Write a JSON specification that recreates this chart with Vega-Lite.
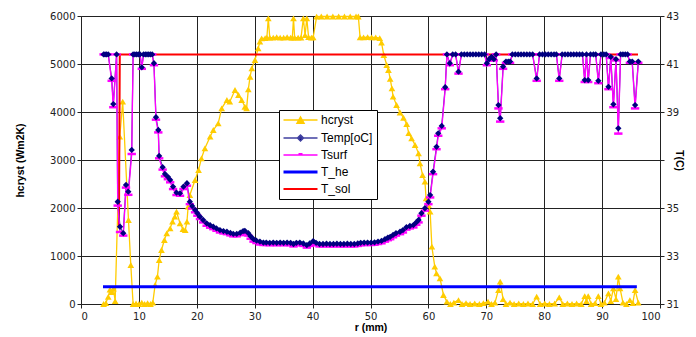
{
  "$schema": "https://vega.github.io/schema/vega-lite/v6.json",
  "width": 579,
  "height": 288,
  "autosize": {"type": "none"},
  "padding": {"left": 81, "top": 16, "right": 36, "bottom": 33},
  "background": "white",
  "datasets": {
    "hc": [
      {"r":3.9,"v":0},{"r":4.3,"v":20},{"r":4.7,"v":150},{"r":5.0,"v":300},{"r":5.3,"v":250},{"r":5.6,"v":320},{"r":5.9,"v":60},
      {"r":6.7,"v":3486},{"r":7.2,"v":4215},{"r":8.2,"v":1750},{"r":8.6,"v":812},{"r":9.0,"v":0},{"r":9.5,"v":10},{"r":10.0,"v":0},
      {"r":10.5,"v":30},{"r":11.0,"v":0},{"r":11.5,"v":20},{"r":12.0,"v":0},{"r":12.4,"v":30},
      {"r":12.8,"v":396},{"r":13.2,"v":570},{"r":13.5,"v":917},{"r":13.9,"v":1125},{"r":14.4,"v":1333},{"r":14.8,"v":1473},
      {"r":15.4,"v":1577},{"r":15.8,"v":1715},{"r":16.2,"v":1820},{"r":16.5,"v":1923},{"r":17.1,"v":1681},{"r":17.6,"v":1560},
      {"r":18.0,"v":1540},{"r":18.3,"v":1715},{"r":18.5,"v":2027},{"r":18.8,"v":2271},{"r":19.7,"v":2583},{"r":20.3,"v":2792},
      {"r":20.8,"v":3035},{"r":21.4,"v":3243},{"r":22.3,"v":3486},{"r":22.85,"v":3625},{"r":23.7,"v":3764},{"r":24.3,"v":4077},
      {"r":25.2,"v":4250},{"r":25.7,"v":4215},{"r":26.6,"v":4458},{"r":27.2,"v":4354},{"r":27.75,"v":4250},{"r":28.3,"v":4110},
      {"r":28.6,"v":4077},{"r":28.9,"v":4472},{"r":29.2,"v":4735},{"r":29.5,"v":4910},{"r":30.05,"v":5083},{"r":30.6,"v":5327},
      {"r":30.9,"v":5465},{"r":31.2,"v":5535},{"r":31.8,"v":5540},{"r":32.1,"v":5550},{"r":32.35,"v":5952},{"r":32.6,"v":5550},
      {"r":33.2,"v":5550},{"r":33.8,"v":5560},{"r":34.4,"v":5550},{"r":35.0,"v":5550},{"r":35.6,"v":5560},{"r":36.2,"v":5550},
      {"r":36.5,"v":5550},{"r":36.7,"v":5952},{"r":36.9,"v":5550},{"r":37.5,"v":5550},{"r":38.0,"v":5550},{"r":38.4,"v":5952},
      {"r":38.7,"v":5600},{"r":39.0,"v":5952},{"r":39.3,"v":5560},{"r":39.8,"v":5550},{"r":40.1,"v":5555},{"r":40.7,"v":5986},
      {"r":41.5,"v":5990},{"r":42.5,"v":5990},{"r":43.5,"v":5990},{"r":44.5,"v":5990},{"r":45.5,"v":5990},{"r":46.5,"v":5990},
      {"r":47.5,"v":5990},{"r":47.9,"v":5990},{"r":48.2,"v":5555},{"r":48.8,"v":5555},{"r":49.5,"v":5560},{"r":50.2,"v":5555},
      {"r":50.9,"v":5555},{"r":51.6,"v":5540},{"r":51.9,"v":5444},{"r":52.3,"v":5187},{"r":52.8,"v":4979},{"r":53.1,"v":4875},
      {"r":53.4,"v":4690},{"r":53.7,"v":4493},{"r":53.9,"v":4319},{"r":54.5,"v":4146},{"r":55.1,"v":3990},{"r":55.7,"v":3880},
      {"r":56.25,"v":3750},{"r":56.6,"v":3560},{"r":57.1,"v":3450},{"r":57.7,"v":3312},{"r":58.3,"v":3139},{"r":58.55,"v":2931},
      {"r":59.0,"v":2687},{"r":59.4,"v":2548},{"r":59.6,"v":2201},{"r":60.0,"v":2062},{"r":60.3,"v":1923},{"r":60.6,"v":1194},
      {"r":61.1,"v":777},{"r":61.4,"v":639},{"r":62.0,"v":535},{"r":62.6,"v":188},{"r":63.2,"v":48},{"r":63.8,"v":0},
      {"r":64.4,"v":30},{"r":65.2,"v":80},{"r":65.8,"v":0},{"r":66.5,"v":20},{"r":67.2,"v":0},{"r":68.0,"v":10},{"r":68.8,"v":0},
      {"r":69.5,"v":20},{"r":70.3,"v":50},{"r":70.9,"v":0},{"r":71.5,"v":30},{"r":72.1,"v":290},{"r":72.4,"v":465},{"r":72.9,"v":100},
      {"r":73.4,"v":0},{"r":74.1,"v":30},{"r":74.8,"v":0},{"r":75.6,"v":10},{"r":76.4,"v":0},{"r":77.2,"v":10},{"r":78.0,"v":0},
      {"r":78.7,"v":152},{"r":79.3,"v":0},{"r":80.1,"v":10},{"r":80.9,"v":0},{"r":81.8,"v":10},{"r":82.6,"v":140},{"r":83.2,"v":0},
      {"r":84.0,"v":10},{"r":84.8,"v":0},{"r":85.6,"v":10},{"r":86.4,"v":0},{"r":87.0,"v":166},{"r":87.3,"v":60},{"r":87.6,"v":166},
      {"r":88.1,"v":0},{"r":88.8,"v":20},{"r":89.35,"v":166},{"r":89.8,"v":0},{"r":90.4,"v":30},{"r":91.1,"v":222},{"r":91.5,"v":60},
      {"r":91.95,"v":327},{"r":92.4,"v":100},{"r":92.8,"v":570},{"r":93.1,"v":327},{"r":93.6,"v":30},{"r":94.2,"v":0},{"r":94.8,"v":80},
      {"r":95.3,"v":20},{"r":95.7,"v":290},{"r":96.25,"v":30}
    ],
    "temp": [
      {"r":3.9,"t":41.4},{"r":4.15,"t":41.4},{"r":4.4,"t":41.4},{"r":4.7,"t":41.4},{"r":5.3,"t":40.4},{"r":5.58,"t":39.33},
      {"r":6.15,"t":41.4},{"r":6.34,"t":35.26},{"r":6.74,"t":34.22},{"r":7.3,"t":33.95},{"r":7.77,"t":35.96},{"r":8.17,"t":35.68},
      {"r":8.76,"t":37.42},{"r":9.0,"t":41.4},{"r":9.3,"t":41.4},{"r":9.6,"t":41.4},{"r":9.9,"t":41.4},{"r":10.2,"t":41.4},
      {"r":10.5,"t":40.86},{"r":10.8,"t":41.4},{"r":11.1,"t":41.4},{"r":11.4,"t":41.4},{"r":11.7,"t":41.4},{"r":12.0,"t":41.4},
      {"r":12.3,"t":41.4},{"r":12.6,"t":41.03},{"r":12.95,"t":38.78},{"r":13.35,"t":38.25},{"r":13.5,"t":37.17},{"r":14.1,"t":36.7},
      {"r":14.5,"t":36.42},{"r":15.0,"t":36.3},{"r":15.4,"t":36.17},{"r":15.9,"t":35.89},{"r":16.5,"t":35.64},{"r":17.1,"t":35.61},
      {"r":17.7,"t":35.89},{"r":18.3,"t":36.03},{"r":18.8,"t":35.26},{"r":19.2,"t":35.08},{"r":19.7,"t":34.92},{"r":20.1,"t":34.78},
      {"r":20.55,"t":34.64},{"r":21.1,"t":34.5},{"r":21.7,"t":34.36},{"r":22.3,"t":34.28},{"r":22.85,"t":34.22},{"r":23.4,"t":34.15},
      {"r":24.0,"t":34.08},{"r":24.6,"t":34.04},{"r":25.2,"t":34.01},{"r":25.8,"t":33.96},{"r":26.3,"t":33.92},{"r":26.9,"t":33.92},
      {"r":27.5,"t":33.97},{"r":28.0,"t":34.04},{"r":28.3,"t":34.05},{"r":28.9,"t":33.95},{"r":29.3,"t":33.82},{"r":29.8,"t":33.7},
      {"r":30.3,"t":33.64},{"r":30.9,"t":33.6},{"r":31.5,"t":33.56},{"r":32.0,"t":33.56},{"r":32.6,"t":33.55},{"r":33.2,"t":33.56},
      {"r":33.8,"t":33.55},{"r":34.4,"t":33.56},{"r":35.0,"t":33.55},{"r":35.6,"t":33.56},{"r":36.2,"t":33.55},{"r":36.7,"t":33.5},
      {"r":37.2,"t":33.55},{"r":37.8,"t":33.56},{"r":38.4,"t":33.52},{"r":39.0,"t":33.45},{"r":39.5,"t":33.52},{"r":40.1,"t":33.62},
      {"r":40.6,"t":33.55},{"r":41.2,"t":33.5},{"r":41.8,"t":33.5},{"r":42.4,"t":33.51},{"r":43.0,"t":33.5},{"r":43.6,"t":33.5},
      {"r":44.2,"t":33.51},{"r":44.8,"t":33.5},{"r":45.4,"t":33.5},{"r":46.0,"t":33.51},{"r":46.6,"t":33.5},{"r":47.2,"t":33.5},
      {"r":47.8,"t":33.52},{"r":48.3,"t":33.55},{"r":48.9,"t":33.56},{"r":49.5,"t":33.56},{"r":50.1,"t":33.56},{"r":50.7,"t":33.57},
      {"r":51.3,"t":33.6},{"r":51.9,"t":33.63},{"r":52.5,"t":33.7},{"r":53.0,"t":33.76},{"r":53.4,"t":33.8},{"r":53.9,"t":33.88},
      {"r":54.4,"t":33.95},{"r":55.1,"t":34.01},{"r":55.6,"t":34.08},{"r":56.2,"t":34.2},{"r":56.8,"t":34.25},{"r":57.4,"t":34.29},
      {"r":57.9,"t":34.4},{"r":58.3,"t":34.5},{"r":58.8,"t":34.78},{"r":59.4,"t":34.99},{"r":60.0,"t":35.26},{"r":60.3,"t":35.54},
      {"r":60.8,"t":36.51},{"r":61.4,"t":37.55},{"r":61.7,"t":38.11},{"r":62.3,"t":38.42},{"r":62.9,"t":40.03},{"r":63.2,"t":41.4},
      {"r":63.7,"t":41.03},{"r":64.2,"t":41.4},{"r":64.7,"t":41.4},{"r":65.2,"t":40.68},{"r":65.7,"t":41.4},{"r":66.2,"t":41.4},
      {"r":66.7,"t":41.4},{"r":67.2,"t":41.4},{"r":67.7,"t":41.4},{"r":68.2,"t":41.4},{"r":68.7,"t":41.4},{"r":69.2,"t":41.4},
      {"r":69.7,"t":41.4},{"r":70.1,"t":41.03},{"r":70.5,"t":41.2},{"r":70.9,"t":41.3},{"r":71.3,"t":41.2},{"r":71.7,"t":41.4},
      {"r":72.1,"t":39.29},{"r":72.4,"t":38.74},{"r":72.9,"t":40.89},{"r":73.4,"t":41.1},{"r":73.8,"t":41.1},{"r":74.1,"t":41.1},
      {"r":74.5,"t":41.4},{"r":75.0,"t":41.4},{"r":75.5,"t":41.4},{"r":76.0,"t":41.4},{"r":76.5,"t":41.4},{"r":77.0,"t":41.4},
      {"r":77.5,"t":41.4},{"r":78.0,"t":41.4},{"r":78.7,"t":40.4},{"r":79.2,"t":41.4},{"r":79.7,"t":41.4},{"r":80.2,"t":41.4},
      {"r":80.7,"t":41.4},{"r":81.2,"t":41.4},{"r":81.7,"t":41.4},{"r":82.1,"t":41.4},{"r":82.6,"t":40.4},{"r":83.1,"t":41.4},
      {"r":83.6,"t":41.4},{"r":84.1,"t":41.4},{"r":84.6,"t":41.4},{"r":85.1,"t":41.4},{"r":85.6,"t":41.4},{"r":86.1,"t":41.4},
      {"r":86.6,"t":41.4},{"r":87.0,"t":40.33},{"r":87.3,"t":41.4},{"r":87.6,"t":40.33},{"r":88.0,"t":41.4},{"r":88.5,"t":41.4},
      {"r":88.9,"t":41.4},{"r":89.35,"t":40.3},{"r":89.8,"t":41.4},{"r":90.3,"t":41.4},{"r":90.7,"t":41.4},{"r":91.1,"t":40.05},
      {"r":91.5,"t":41.3},{"r":91.95,"t":39.32},{"r":92.4,"t":41.2},{"r":92.8,"t":38.32},{"r":93.2,"t":41.4},{"r":93.6,"t":41.4},
      {"r":94.0,"t":41.4},{"r":94.4,"t":41.4},{"r":94.8,"t":41.1},{"r":95.2,"t":41.1},{"r":95.7,"t":39.29},{"r":96.25,"t":41.1}
    ],
    "tsurf": [
      {"r":3.9,"t":41.4},{"r":4.15,"t":41.4},{"r":4.4,"t":41.4},{"r":4.7,"t":41.4},{"r":5.3,"t":40.3},{"r":5.58,"t":39.2},
      {"r":6.15,"t":41.4},{"r":6.34,"t":35.1},{"r":6.74,"t":34.0},{"r":7.3,"t":33.85},{"r":7.77,"t":35.85},{"r":8.17,"t":35.55},
      {"r":8.76,"t":37.25},{"r":9.0,"t":41.4},{"r":9.3,"t":41.4},{"r":9.6,"t":41.4},{"r":9.9,"t":41.4},{"r":10.2,"t":41.4},
      {"r":10.5,"t":40.8},{"r":10.8,"t":41.4},{"r":11.1,"t":41.4},{"r":11.4,"t":41.4},{"r":11.7,"t":41.4},{"r":12.0,"t":41.4},
      {"r":12.3,"t":41.4},{"r":12.6,"t":40.95},{"r":12.95,"t":38.68},{"r":13.35,"t":38.15},{"r":13.5,"t":37.07},{"r":14.1,"t":36.6},
      {"r":14.5,"t":36.32},{"r":15.0,"t":36.2},{"r":15.4,"t":36.07},{"r":15.9,"t":35.79},{"r":16.5,"t":35.54},{"r":17.1,"t":35.51},
      {"r":17.7,"t":35.79},{"r":18.3,"t":35.93},{"r":18.8,"t":35.16},{"r":19.2,"t":34.98},{"r":19.7,"t":34.82},{"r":20.1,"t":34.68},
      {"r":20.55,"t":34.54},{"r":21.1,"t":34.4},{"r":21.7,"t":34.26},{"r":22.3,"t":34.18},{"r":22.85,"t":34.12},{"r":23.4,"t":34.05},
      {"r":24.0,"t":33.98},{"r":24.6,"t":33.94},{"r":25.2,"t":33.91},{"r":25.8,"t":33.86},{"r":26.3,"t":33.82},{"r":26.9,"t":33.82},
      {"r":27.5,"t":33.87},{"r":28.0,"t":33.94},{"r":28.3,"t":33.95},{"r":28.9,"t":33.85},{"r":29.3,"t":33.72},{"r":29.8,"t":33.6},
      {"r":30.3,"t":33.54},{"r":30.9,"t":33.48},{"r":31.5,"t":33.46},{"r":32.0,"t":33.46},{"r":32.6,"t":33.45},{"r":33.2,"t":33.46},
      {"r":33.8,"t":33.45},{"r":34.4,"t":33.46},{"r":35.0,"t":33.45},{"r":35.6,"t":33.46},{"r":36.2,"t":33.45},{"r":36.7,"t":33.4},
      {"r":37.2,"t":33.45},{"r":37.8,"t":33.46},{"r":38.4,"t":33.42},{"r":39.0,"t":33.35},{"r":39.5,"t":33.42},{"r":40.1,"t":33.5},
      {"r":40.6,"t":33.45},{"r":41.2,"t":33.4},{"r":41.8,"t":33.4},{"r":42.4,"t":33.41},{"r":43.0,"t":33.4},{"r":43.6,"t":33.4},
      {"r":44.2,"t":33.41},{"r":44.8,"t":33.4},{"r":45.4,"t":33.4},{"r":46.0,"t":33.41},{"r":46.6,"t":33.4},{"r":47.2,"t":33.4},
      {"r":47.8,"t":33.42},{"r":48.3,"t":33.45},{"r":48.9,"t":33.46},{"r":49.5,"t":33.46},{"r":50.1,"t":33.46},{"r":50.7,"t":33.47},
      {"r":51.3,"t":33.5},{"r":51.9,"t":33.53},{"r":52.5,"t":33.6},{"r":53.0,"t":33.66},{"r":53.4,"t":33.7},{"r":53.9,"t":33.78},
      {"r":54.4,"t":33.85},{"r":55.1,"t":33.91},{"r":55.6,"t":33.98},{"r":56.2,"t":34.1},{"r":56.8,"t":34.15},{"r":57.4,"t":34.19},
      {"r":57.9,"t":34.3},{"r":58.3,"t":34.4},{"r":58.8,"t":34.68},{"r":59.4,"t":34.89},{"r":60.0,"t":35.16},{"r":60.3,"t":35.44},
      {"r":60.8,"t":36.41},{"r":61.4,"t":37.45},{"r":61.7,"t":38.01},{"r":62.3,"t":38.32},{"r":62.9,"t":39.95},{"r":63.2,"t":41.4},
      {"r":63.7,"t":40.95},{"r":64.2,"t":41.4},{"r":64.7,"t":41.4},{"r":65.2,"t":40.6},{"r":65.7,"t":41.4},{"r":66.2,"t":41.4},
      {"r":66.7,"t":41.4},{"r":67.2,"t":41.4},{"r":67.7,"t":41.4},{"r":68.2,"t":41.4},{"r":68.7,"t":41.4},{"r":69.2,"t":41.4},
      {"r":69.7,"t":41.4},{"r":70.1,"t":40.95},{"r":70.5,"t":41.15},{"r":70.9,"t":41.25},{"r":71.3,"t":41.15},{"r":71.7,"t":41.4},
      {"r":72.1,"t":39.15},{"r":72.4,"t":38.6},{"r":72.9,"t":40.8},{"r":73.4,"t":41.05},{"r":73.8,"t":41.05},{"r":74.1,"t":41.05},
      {"r":74.5,"t":41.4},{"r":75.0,"t":41.4},{"r":75.5,"t":41.4},{"r":76.0,"t":41.4},{"r":76.5,"t":41.4},{"r":77.0,"t":41.4},
      {"r":77.5,"t":41.4},{"r":78.0,"t":41.4},{"r":78.7,"t":40.3},{"r":79.2,"t":41.4},{"r":79.7,"t":41.4},{"r":80.2,"t":41.4},
      {"r":80.7,"t":41.4},{"r":81.2,"t":41.4},{"r":81.7,"t":41.4},{"r":82.1,"t":41.4},{"r":82.6,"t":40.3},{"r":83.1,"t":41.4},
      {"r":83.6,"t":41.4},{"r":84.1,"t":41.4},{"r":84.6,"t":41.4},{"r":85.1,"t":41.4},{"r":85.6,"t":41.4},{"r":86.1,"t":41.4},
      {"r":86.6,"t":41.4},{"r":87.0,"t":40.25},{"r":87.3,"t":41.4},{"r":87.6,"t":40.25},{"r":88.0,"t":41.4},{"r":88.5,"t":41.4},
      {"r":88.9,"t":41.4},{"r":89.35,"t":40.2},{"r":89.8,"t":41.4},{"r":90.3,"t":41.4},{"r":90.7,"t":41.4},{"r":91.1,"t":39.95},
      {"r":91.5,"t":41.25},{"r":91.95,"t":39.2},{"r":92.4,"t":41.15},{"r":92.8,"t":38.1},{"r":93.2,"t":41.4},{"r":93.6,"t":41.4},
      {"r":94.0,"t":41.4},{"r":94.4,"t":41.4},{"r":94.8,"t":41.05},{"r":95.2,"t":41.05},{"r":95.7,"t":39.15},{"r":96.25,"t":41.05}
    ],
    "the": [{"r":3.8,"t":31.72},{"r":96.0,"t":31.72}],
    "tsol": [{"r":6.55,"t":34.2},{"r":6.7,"t":41.4},{"r":96.2,"t":41.4}]
  },
  "encoding": {
    "x": {
      "field": "r", "type": "quantitative",
      "scale": {"domain": [0, 100], "nice": false},
      "axis": {"values": [0,10,20,30,40,50,60,70,80,90,100], "title": "r (mm)", "labelPadding": 3, "titlePadding": 1}
    }
  },
  "layer": [
    {
      "data": {"name": "hc"},
      "encoding": {
        "y": {
          "field": "v", "type": "quantitative",
          "scale": {"domain": [0, 6000], "nice": false},
          "axis": {"orient": "left", "values": [0,1000,2000,3000,4000,5000,6000], "format": "d",
                   "title": "hcryst (Wm2K)", "titleX": -56, "titleY": 144}
        }
      },
      "layer": [
        {
          "mark": {"type": "line", "strokeWidth": 1.3},
          "encoding": {
            "color": {
              "datum": "hcryst", "type": "nominal",
              "scale": {"domain": ["hcryst","Temp[oC]","Tsurf","T_he","T_sol"],
                        "range": ["#FFCC00","#4040A0","#FF00FF","#0000FF","#FF0000"]},
              "legend": {
                "orient": "none", "legendX": 198, "legendY": 94, "title": null,
                "padding": 4, "strokeColor": "#000", "fillColor": "#fff", "cornerRadius": 0,
                "symbolSize": 100, "labelOffset": 26, "rowPadding": 5,
                "labelFont": "Liberation Sans", "labelFontSize": 12, "labelColor": "#000",
                "encode": {
                  "symbols": {
                    "update": {
                      "shape": {"signal": "datum.value === 'hcryst' ? 'M-1.1,0H5.7M1.6,0.65L2.3,-0.6L3,0.65Z' : datum.value === 'Temp[oC]' ? 'M-1.1,0H5.7M1.7,0L2.3,-0.6L2.9,0L2.3,0.6Z' : datum.value === 'Tsurf' ? 'M-1.1,0H5.7M1.9,-0.25H2.7' : 'M-1.1,0H5.7'"},
                      "fill": {"signal": "datum.value === 'hcryst' ? '#FFCC00' : datum.value === 'Temp[oC]' ? '#000080' : 'transparent'"},
                      "fillOpacity": {"value": 1},
                      "strokeWidth": {"signal": "datum.value === 'T_he' ? 3 : datum.value === 'T_sol' ? 2 : 1.5"}
                    }
                  }
                }
              }
            }
          }
        },
        {
          "mark": {"type": "point", "shape": "triangle-up", "filled": true, "size": 45, "color": "#FFCC00", "opacity": 1}
        }
      ]
    },
    {
      "encoding": {
        "y": {
          "field": "t", "type": "quantitative",
          "scale": {"domain": [31, 43], "nice": false},
          "axis": {"orient": "right", "values": [31,33,35,37,39,41,43], "grid": false,
                   "labelExpr": "datum.value == 37 ? '' : datum.label",
                   "title": "T(C)", "titleX": 13, "titleY": 144}
        }
      },
      "layer": [
        {
          "data": {"name": "the"},
          "mark": {"type": "line", "strokeWidth": 3},
          "encoding": {"color": {"datum": "T_he", "type": "nominal"}}
        },
        {
          "data": {"name": "tsol"},
          "mark": {"type": "line", "strokeWidth": 2},
          "encoding": {"color": {"datum": "T_sol", "type": "nominal"}}
        },
        {
          "data": {"name": "temp"},
          "mark": {"type": "line", "strokeWidth": 1.2},
          "encoding": {"color": {"datum": "Temp[oC]", "type": "nominal"}}
        },
        {
          "data": {"name": "tsurf"},
          "mark": {"type": "line", "strokeWidth": 1.3},
          "encoding": {"color": {"datum": "Tsurf", "type": "nominal"}}
        },
        {
          "data": {"name": "tsurf"},
          "mark": {"type": "point", "shape": "stroke", "size": 70, "strokeWidth": 2.5, "color": "#FF00FF", "opacity": 1}
        },
        {
          "data": {"name": "temp"},
          "mark": {"type": "point", "shape": "diamond", "filled": true, "size": 40, "color": "#000080", "opacity": 1}
        }
      ]
    }
  ],
  "resolve": {"scale": {"y": "independent"}},
  "config": {
    "font": "Liberation Sans",
    "view": {"stroke": null},
    "axis": {
      "labelFont": "DejaVu Sans", "labelFontSize": 10, "labelColor": "#222",
      "titleFont": "Liberation Sans", "titleFontSize": 10.5, "titleFontWeight": "bold", "titleColor": "#000",
      "domainColor": "#222", "tickColor": "#222", "gridColor": "#222", "gridOpacity": 1, "gridWidth": 1, "tickSize": 4
    }
  }
}
